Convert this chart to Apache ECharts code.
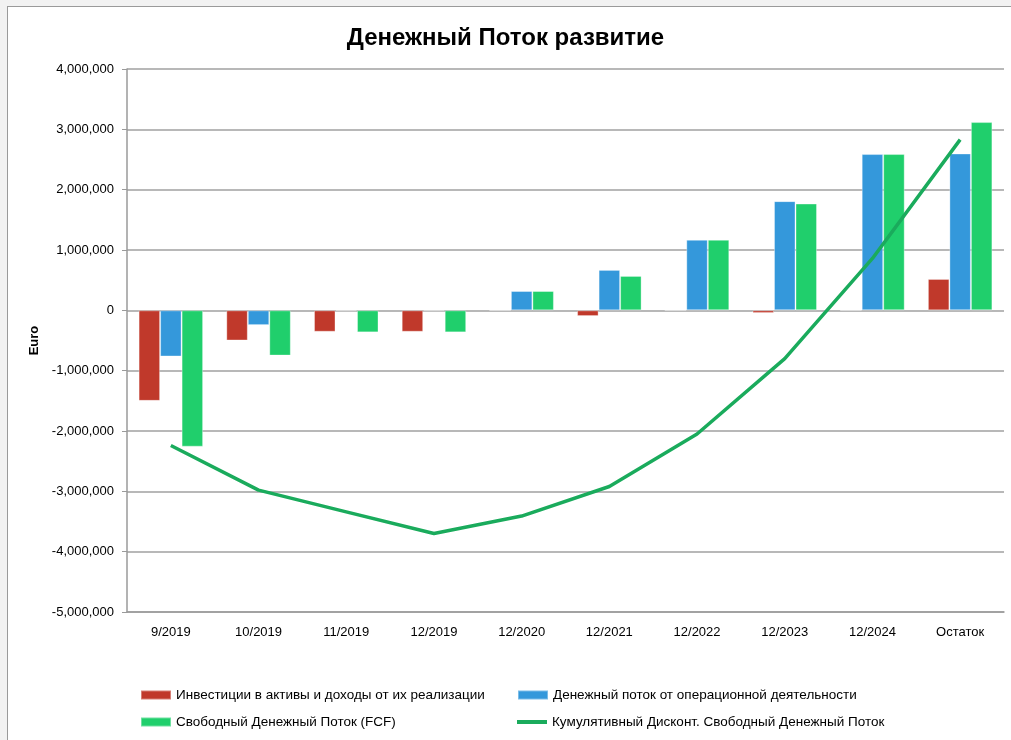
<!DOCTYPE html>
<html>
<head>
<meta charset="utf-8">
<script src="https://cdn.jsdelivr.net/npm/echarts@6/dist/echarts.min.js"></script>
<style>
  html, body { margin: 0; padding: 0; background: #fff; }
  #chart { width: 1011px; height: 740px; }
</style>
</head>
<body>
<div id="chart"></div>
<script>
    // periods on the x axis
    const categories = ['9/2019', '10/2019', '11/2019', '12/2019', '12/2020', '12/2021', '12/2022', '12/2023', '12/2024', 'Остаток'];

    // values (euro)
    const investments = [-1500000, -500000, -355000, -355000, 0, -95000, 0, -45000, 0, 520000];
    const operating = [-765000, -245000, -12000, -12000, 320000, 670000, 1170000, 1810000, 2590000, 2600000];
    const fcf = [-2260000, -750000, -365000, -365000, 320000, 570000, 1170000, 1770000, 2590000, 3120000];
    const cumulative = [-2240000, -2980000, -3340000, -3700000, -3410000, -2920000, -2050000, -800000, 860000, 2830000];

    const seriesNames = [
        'Инвестиции в активы и доходы от их реализации',
        'Денежный поток от операционной деятельности',
        'Свободный Денежный Поток (FCF)',
        'Кумулятивный Дисконт. Свободный Денежный Поток'
    ];

    const font = "'Liberation Sans Narrow', 'Liberation Sans', sans-serif";
    const colors = ['#c0392b', '#3498db', '#20cf6c', '#1aab5c'];

    const legendText = { fontFamily: font, fontSize: 13.5, color: '#000' };
    function legendAt(name, left, top, isLine) {
        return {
            data: [name],
            left: left,
            top: top,
            icon: 'rect',
            itemWidth: 30,
            itemHeight: isLine ? 4 : 9,
            itemGap: 5,
            padding: 0,
            textStyle: legendText
        };
    }

    const chart = echarts.init(document.getElementById('chart'));

    chart.setOption({
        animation: false,
        color: colors,
        title: {
            text: 'Денежный Поток развитие',
            left: 'center',
            top: 21,
            textStyle: { fontFamily: font, fontSize: 24, fontWeight: 'bold', color: '#000' }
        },
        graphic: [
            { type: 'rect', shape: { x: 0, y: 0, width: 7, height: 740 }, style: { fill: '#f2f2f2' }, silent: true },
            { type: 'rect', shape: { x: 0, y: 0, width: 1011, height: 6 }, style: { fill: '#f2f2f2' }, silent: true },
            { type: 'line', shape: { x1: 7.5, y1: 6, x2: 7.5, y2: 740 }, style: { stroke: '#9a9a9a', lineWidth: 1 }, silent: true },
            { type: 'line', shape: { x1: 7, y1: 6.5, x2: 1011, y2: 6.5 }, style: { stroke: '#9a9a9a', lineWidth: 1 }, silent: true }
        ],
        legend: [
            legendAt(seriesNames[0], 140, 688, false),
            legendAt(seriesNames[1], 517, 688, false),
            legendAt(seriesNames[2], 140, 715, false),
            legendAt(seriesNames[3], 517, 715, true)
        ],
        grid: {
            left: 127,
            right: 7,
            top: 69,
            bottom: 128,
            containLabel: false
        },
        xAxis: {
            type: 'category',
            data: categories,
            axisLine: { onZero: false, lineStyle: { color: '#9a9a9a', width: 1.5 } },
            axisTick: { show: false },
            axisLabel: { fontFamily: font, fontSize: 13, color: '#000', margin: 14 }
        },
        yAxis: {
            type: 'value',
            min: -5000000,
            max: 4000000,
            interval: 1000000,
            name: 'Euro',
            nameLocation: 'middle',
            nameRotate: 90,
            nameGap: 85,
            nameTextStyle: { fontFamily: font, fontSize: 13, fontWeight: 'bold', color: '#000' },
            axisLine: { show: true, lineStyle: { color: '#9a9a9a', width: 1.5 } },
            axisTick: { show: true, length: 5, lineStyle: { color: '#9a9a9a' } },
            splitLine: { lineStyle: { color: '#a0a0a0', width: 1.5 } },
            axisLabel: {
                fontFamily: font,
                fontSize: 13,
                color: '#000',
                margin: 13,
                formatter: function (v) { return v.toLocaleString('en-US'); }
            }
        },
        series: [
            {
                name: seriesNames[0], type: 'bar', data: investments,
                barWidth: 21.5, barGap: '0%',
                itemStyle: { color: colors[0], borderColor: 'rgba(255,255,255,0.35)', borderWidth: 1 }
            },
            {
                name: seriesNames[1], type: 'bar', data: operating,
                barWidth: 21.5, barGap: '0%',
                itemStyle: { color: colors[1], borderColor: 'rgba(255,255,255,0.35)', borderWidth: 1 }
            },
            {
                name: seriesNames[2], type: 'bar', data: fcf,
                barWidth: 21.5, barGap: '0%',
                itemStyle: { color: colors[2], borderColor: 'rgba(255,255,255,0.35)', borderWidth: 1 }
            },
            {
                name: seriesNames[3], type: 'line', data: cumulative,
                symbol: 'none',
                lineStyle: { color: colors[3], width: 3.5 },
                itemStyle: { color: colors[3] },
                z: 5
            }
        ]
    });
</script>
</body>
</html>
